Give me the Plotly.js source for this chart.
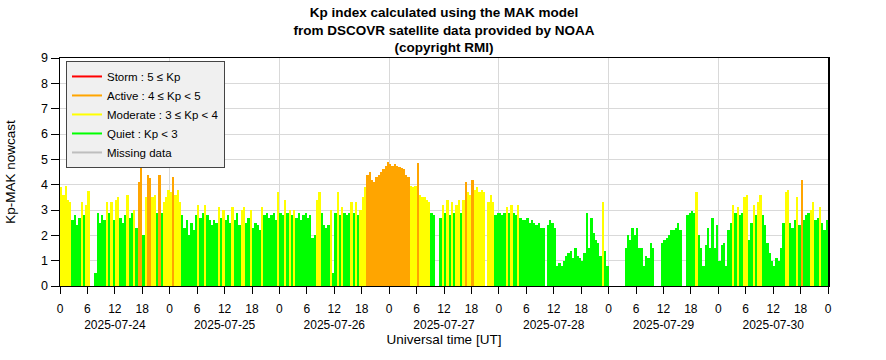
<!DOCTYPE html>
<html>
<head>
<meta charset="utf-8">
<script src="https://cdn.plot.ly/plotly-3.0.1.min.js"></script>
<style>html,body{margin:0;padding:0;background:#fff;}#chart{width:886px;height:360px;}</style>
</head>
<body>
<div id="chart"></div>
<script>
// Kp-MAK nowcast, half-hourly values (null = missing data)
var days = ["2025-07-24","2025-07-25","2025-07-26","2025-07-27","2025-07-28","2025-07-29","2025-07-30"];
var kp_0724 = [3.9,3.6,3.95,3.4,3.3,2.6,2.8,2.4,2.7,3.3,2.8,3.2,3.75,null,null,0.5,2.9,2.5,2.8,2.6,3.3,2.9,3.3,2.6,3.4,3.5,2.7,2.5,2.8,3.6,2.7,2.9,3.0,2.3,4.1,4.75,2.0,3.5,4.4,4.25,3.5,3.6,2.9,4.4,2.9,3.3,3.5,3.8];
var kp_0725 = [3.7,4.3,3.6,3.8,3.3,2.8,2.3,2.6,2.0,2.5,2.2,2.8,3.2,2.7,2.9,3.2,2.8,2.6,2.4,2.6,2.5,3.1,2.7,3.0,2.6,2.8,2.5,3.1,2.6,2.9,2.4,3.0,3.1,2.5,2.7,3.0,2.3,2.5,2.4,2.2,3.1,2.8,2.9,2.7,2.8,2.9,2.6,3.7];
var kp_0726 = [2.9,2.8,3.4,2.9,3.0,2.8,3.0,2.7,2.9,2.6,2.8,2.9,2.7,2.8,1.9,2.0,3.4,3.7,2.9,2.4,2.3,2.4,3.0,0.5,2.9,3.7,2.8,3.1,2.9,2.8,2.9,3.3,2.9,3.3,2.8,3.0,3.5,3.9,4.4,4.5,4.2,4.1,4.3,4.4,4.5,4.6,4.75,4.9];
var kp_0727 = [4.8,4.75,4.8,4.75,4.7,4.65,4.6,4.4,4.3,3.95,3.9,3.95,4.85,3.6,3.5,3.5,3.4,3.3,2.9,2.8,null,null,2.7,3.2,2.9,3.4,2.8,3.3,2.9,3.2,3.4,2.9,3.4,4.1,3.7,3.6,4.2,3.8,3.9,3.7,3.8,3.7,null,3.3,3.6,3.3,2.8,2.9];
var kp_0728 = [2.9,2.8,2.9,3.1,2.9,3.2,2.9,2.8,3.2,2.7,2.6,2.6,2.7,2.5,2.6,2.5,2.4,2.5,2.3,2.3,null,2.4,2.6,2.5,2.3,0.8,0.9,0.8,1.0,1.2,1.3,1.4,1.1,1.5,1.2,1.1,1.0,1.3,2.9,1.5,2.7,2.1,1.8,1.7,1.2,3.3,1.4,0.8];
var kp_0729 = [null,null,null,null,null,null,null,1.5,2.0,1.8,2.3,2.0,2.3,1.5,1.5,0.8,1.2,1.1,1.7,1.5,null,null,null,1.7,1.8,1.9,2.0,2.2,2.2,2.3,2.5,2.2,null,null,2.8,2.9,2.95,2.9,3.7,2.0,1.5,0.8,1.6,2.3,1.5,2.7,1.5,2.4];
var kp_0730 = [1.0,1.6,1.7,0.8,2.2,2.5,3.2,2.9,3.1,2.8,2.9,3.5,3.6,1.8,2.5,3.2,2.8,3.3,3.6,2.8,2.4,1.7,1.3,1.0,0.8,1.1,1.0,1.5,2.5,3.7,3.8,2.5,2.3,2.6,3.5,2.4,4.2,2.6,2.8,2.9,3.0,3.3,2.6,2.7,3.1,2.5,2.2,2.6];
var hourLabels = ["0","6","12","18"];
var legendNames = ["Storm : 5 \u2264 Kp","Active : 4 \u2264 Kp < 5","Moderate : 3 \u2264 Kp < 4","Quiet : Kp < 3","Missing data"];
var legendColors = ["#ff0000","#ffa500","#ffff00","#00ff00","#bebebe"];

var series = [kp_0724,kp_0725,kp_0726,kp_0727,kp_0728,kp_0729,kp_0730];
function pad(n){return (n<10?"0":"")+n;}
function fmt(ms){var d=new Date(ms);return d.getUTCFullYear()+"-"+pad(d.getUTCMonth()+1)+"-"+pad(d.getUTCDate())+" "+pad(d.getUTCHours())+":"+pad(d.getUTCMinutes())+":00";}
var t0 = Date.UTC(2025,6,24,0,0,0);
var HALF = 30*60*1000;
var xs=[], ys=[], cols=[];
series.forEach(function(arr,d){
  arr.forEach(function(v,i){
    xs.push(fmt(t0 + d*48*HALF + i*HALF + HALF/2));
    ys.push(v);
    var c = v===null ? legendColors[4] : (v>=5 ? legendColors[0] : v>=4 ? legendColors[1] : v>=3 ? legendColors[2] : legendColors[3]);
    cols.push(c);
  });
});
var tickvals=[], ticktext=[];
for(var d=0; d<=days.length; d++){
  for(var h=0; h<4; h++){
    if(d===days.length && h>0) break;
    tickvals.push(fmt(t0 + d*86400000 + h*6*3600000));
    ticktext.push(h===2 ? hourLabels[h]+"<br>"+days[d] : hourLabels[h]);
  }
}
var xr = [fmt(t0), fmt(t0 + 7*86400000)];

var traces = [{
  type:"bar", x:xs, y:ys, width:HALF,
  marker:{color:cols, line:{width:0}},
  showlegend:false, hoverinfo:"skip"
}];
legendNames.forEach(function(n,i){
  traces.push({type:"scatter", mode:"lines", x:[null], y:[null], name:n,
    line:{color:legendColors[i], width:2}, hoverinfo:"skip"});
});
traces.push({type:"scatter", mode:"lines", x:[], y:[], xaxis:"x2", yaxis:"y", showlegend:false, hoverinfo:"skip"});

var baseFont = {family:"Liberation Sans, Arial, Helvetica, sans-serif", size:12, color:"#000"};
var layout = {
  width:886, height:360,
  margin:{l:60, r:58, t:58, b:74},
  paper_bgcolor:"#fff", plot_bgcolor:"#fff",
  font:baseFont,
  bargap:0,
  title:{text:"Kp index calculated using the MAK model<br>from DSCOVR satellite data provided by NOAA<br>(copyright RMI)",
    font:{family:"Liberation Sans, Arial, Helvetica, sans-serif", size:13.5, weight:"bold", color:"#000"},
    x:0.5, xanchor:"center", xref:"paper", y:0.952, yanchor:"top", yref:"container"},
  xaxis:{type:"date", range:xr, tickmode:"array", tickvals:tickvals, ticktext:ticktext, tickangle:0,
    ticks:"outside", ticklen:7, tickcolor:"#000", tickwidth:1, showgrid:false, zeroline:false,
    showline:true, linecolor:"#000", linewidth:1, mirror:true,
    tickfont:{size:12}, ticklabelstandoff:5,
    title:{text:"Universal time [UT]", font:{size:13.5}, standoff:0}},
  xaxis2:{type:"date", range:xr, overlaying:"x", anchor:"y", side:"bottom",
    tick0:fmt(t0), dtick:86400000, showgrid:true, gridcolor:"#d9d9d9", gridwidth:1,
    showticklabels:false, ticks:"", showline:false, zeroline:false},
  yaxis:{range:[0,9], dtick:1, tick0:0, ticks:"outside", ticklen:8, tickcolor:"#000",
    showgrid:true, gridcolor:"#d9d9d9", gridwidth:1, zeroline:false,
    showline:true, linecolor:"#000", linewidth:1.5, mirror:true,
    tickfont:{size:12.5},
    title:{text:"Kp-MAK nowcast", font:{size:13.5}, standoff:22}},
  legend:{x:0.0078, y:0.987, xanchor:"left", yanchor:"top", bgcolor:"#f0f0f0",
    bordercolor:"#444", borderwidth:1, font:{size:11.5}, traceorder:"normal"},
  showlegend:true
};
Plotly.newPlot("chart", traces, layout, {staticPlot:true, displayModeBar:false});
</script>
</body>
</html>
